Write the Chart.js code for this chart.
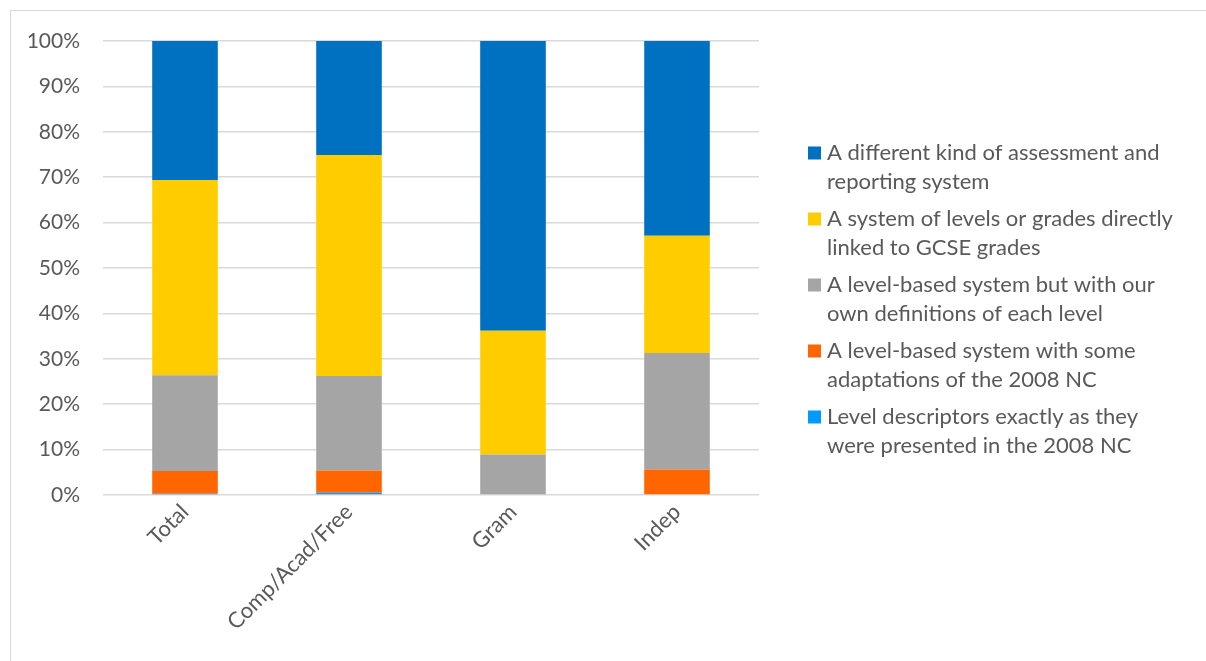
<!DOCTYPE html>
<html>
<head>
<meta charset="utf-8">
<script src="https://cdn.jsdelivr.net/npm/chart.js@4"></script>
<style>
  html, body { margin: 0; padding: 0; background: #fff; overflow: hidden; }
  #marco {
    position: absolute; left: 10px; top: 10px;
    width: 1220px; height: 680px;
    border: 1px solid #d9d9d9;
  }
  #wrap { position: absolute; left: 0; top: 0; width: 1206px; height: 661px; }
</style>
</head>
<body>
<div id="marco"></div>
<div id="wrap"><canvas id="grafico" width="1206" height="661"></canvas></div>
<script>
// Categorías del eje X
const categorias = ['Total', 'Comp/Acad/Free', 'Gram', 'Indep'];

// Porcentajes por serie (de abajo hacia arriba en la pila)
const descriptoresExactos = [0.3, 0.5, 0, 0];
const adaptaciones2008 = [5.0, 4.9, 0, 5.6];
const definicionesPropias = [21.1, 20.8, 8.9, 25.7];
const vinculadoGCSE = [43.0, 48.7, 27.3, 25.8];
const sistemaDistinto = [30.6, 25.1, 63.8, 42.9];

// Textos de la leyenda (en varias líneas)
const etiquetas = {
  descriptoresExactos: ['Level descriptors exactly as they', 'were presented in the 2008 NC'],
  adaptaciones2008: ['A level-based system with some', 'adaptations of the 2008 NC'],
  definicionesPropias: ['A level-based system but with our', 'own definitions of each level'],
  vinculadoGCSE: ['A system of levels or grades directly', 'linked to GCSE grades'],
  sistemaDistinto: ['A different kind of assessment and', 'reporting system']
};

const colores = {
  descriptoresExactos: '#0099FF',
  adaptaciones2008: '#FF6600',
  definicionesPropias: '#A5A5A5',
  vinculadoGCSE: '#FFCC00',
  sistemaDistinto: '#0070C0'
};

const FUENTE = 'Lato, "Open Sans", sans-serif';
const GRIS_TEXTO = '#595959';

function serie(clave, datos) {
  return {
    label: etiquetas[clave].join(' '),
    lineas: etiquetas[clave],
    data: datos,
    backgroundColor: colores[clave],
    borderWidth: 0,
    categoryPercentage: 1,
    barPercentage: 0.4
  };
}

// Leyenda dibujada a mano: texto en dos líneas, orden inverso a la pila
const leyendaPersonalizada = {
  id: 'leyendaPersonalizada',
  afterDraw(chart) {
    const ctx = chart.ctx;
    const sets = chart.data.datasets.slice().reverse();
    const x0 = 808, y0 = 153, pasoItem = 66, pasoLinea = 29, caja = 13;
    ctx.save();
    ctx.font = '22px ' + FUENTE;
    ctx.textBaseline = 'middle';
    ctx.textAlign = 'left';
    sets.forEach((ds, i) => {
      const y = y0 + i * pasoItem;
      ctx.fillStyle = ds.backgroundColor;
      ctx.fillRect(x0, y - caja / 2, caja, caja);
      ctx.fillStyle = GRIS_TEXTO;
      ds.lineas.forEach((linea, j) => {
        ctx.fillText(linea, x0 + 19, y + j * pasoLinea);
      });
    });
    ctx.restore();
  }
};

new Chart(document.getElementById('grafico').getContext('2d'), {
  type: 'bar',
  data: {
    labels: categorias,
    datasets: [
      serie('descriptoresExactos', descriptoresExactos),
      serie('adaptaciones2008', adaptaciones2008),
      serie('definicionesPropias', definicionesPropias),
      serie('vinculadoGCSE', vinculadoGCSE),
      serie('sistemaDistinto', sistemaDistinto)
    ]
  },
  options: {
    responsive: false,
    animation: false,
    layout: { padding: { left: 0, right: 447, top: 41, bottom: 0 } },
    plugins: {
      legend: { display: false },
      tooltip: { enabled: false }
    },
    scales: {
      x: {
        stacked: true,
        grid: { display: false, drawTicks: false },
        border: { display: false },
        ticks: {
          color: GRIS_TEXTO,
          font: { family: FUENTE, size: 22 },
          maxRotation: 45,
          minRotation: 45,
          padding: 4
        },
        afterFit: (escala) => { escala.height = 661 - 495; }
      },
      y: {
        stacked: true,
        min: 0,
        max: 100,
        grid: { color: '#d9d9d9', lineWidth: 1.5, drawTicks: false },
        border: { display: false },
        ticks: {
          stepSize: 10,
          color: GRIS_TEXTO,
          font: { family: FUENTE, size: 21 },
          padding: 23,
          callback: (v) => v + '%'
        },
        afterFit: (escala) => { escala.width = 103; }
      }
    }
  },
  plugins: [leyendaPersonalizada]
});
</script>
</body>
</html>
